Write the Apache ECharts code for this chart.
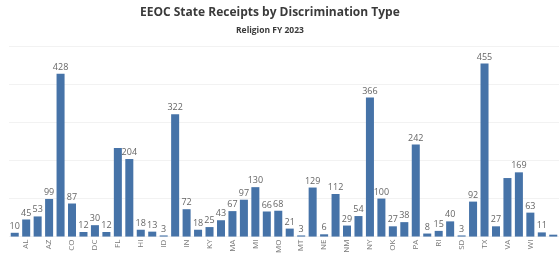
<!DOCTYPE html>
<html><head><meta charset="utf-8">
<script src="https://cdn.jsdelivr.net/npm/echarts@6/dist/echarts.min.js"></script>
<style>html,body{margin:0;padding:0;background:#fff}#c{width:559px;height:256px}</style>
</head><body><div id="c"></div>
<script>
var states = ['AK','AL','AR','AZ','CA','CO','CT','DC','DE','FL','GA','HI','IA','ID','IL','IN','KS','KY','LA','MA','MD','MI','MN','MO','MS','MT','NC','NE','NJ','NM','NV','NY','OH','OK','OR','PA','PR','RI','SC','SD','TN','TX','UT','VA','WA','WI','WV','WY'];
var receipts = [10,45,53,99,428,87,12,30,12,233,204,18,13,3,322,72,18,25,43,67,97,130,66,68,21,3,129,6,112,29,54,366,100,27,38,242,8,15,40,3,92,455,27,154,169,63,11,5];
var hiddenLabels = ['FL','VA','WY'];
var yTicks = [0,100,200,300,400,500];

var chart = echarts.init(document.getElementById('c'), null, {renderer:'canvas'});
chart.setOption({
  animation:false,
  title:[{
    text:'EEOC State Receipts by Discrimination Type',
    left:140, top:7, padding:0,
    textStyle:{fontFamily:'Open Sans', fontWeight:'bold', fontSize:12, color:'#3a3a3a'}
  },{
    text:'Religion FY 2023',
    left:236, top:26, padding:0,
    textStyle:{fontFamily:'Open Sans', fontWeight:'bold', fontSize:8.5, color:'#3a3a3a'}
  }],
  grid:{left:9, width:560, top:46.5, bottom:16.5, containLabel:false},
  xAxis:{
    type:'category', data:states,
    axisLine:{show:false}, axisTick:{show:false},
    axisLabel:{interval:function(i){return i%2===1 && i<states.length-1;}, rotate:90, fontFamily:'Open Sans', fontSize:8, color:'#777', margin:3}
  },
  yAxis:{
    type:'value', min:yTicks[0], max:yTicks[yTicks.length-1], interval:100,
    axisLabel:{show:false}, axisLine:{show:false}, axisTick:{show:false},
    splitLine:{lineStyle:{color:'#f2f2f2', width:1}}
  },
  series:[{
    type:'bar',
    data:receipts.map(function(v,i){
      return hiddenLabels.indexOf(states[i])>=0 ? {value:v, label:{show:false}} : v;
    }),
    barCategoryGap:'30%',
    itemStyle:{color:'#4673a8'},
    label:{show:true, position:'top', distance:2, fontFamily:'Open Sans', fontSize:9, color:'#666'}
  }]
});
</script></body></html>
